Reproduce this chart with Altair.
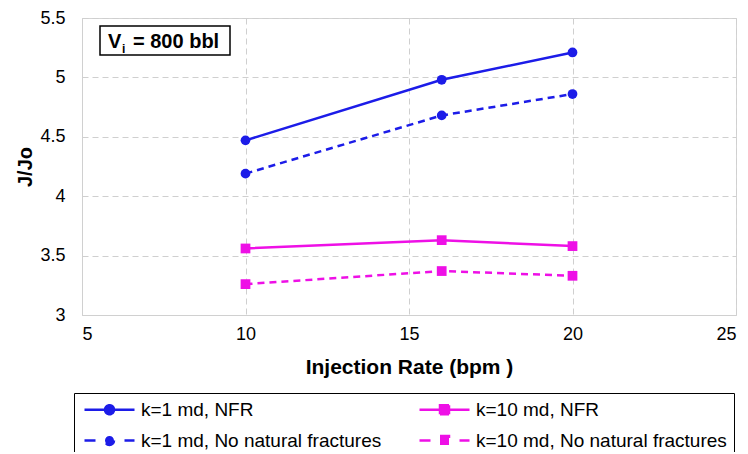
import altair as alt
import pandas as pd

rates = [10, 16, 20]
k1_nfr = [4.47, 4.98, 5.21]
k1_nonf = [4.19, 4.68, 4.86]
k10_nfr = [3.56, 3.63, 3.58]
k10_nonf = [3.26, 3.37, 3.33]

series_names = ["k=1 md, NFR", "k=10 md, NFR",
                "k=1 md, No natural fractures", "k=10 md, No natural fractures"]
series_values = [k1_nfr, k10_nfr, k1_nonf, k10_nonf]
series_colors = ["#1c1ce8", "#ee10e6", "#1c1ce8", "#ee10e6"]
series_solid = [True, True, False, False]
series_round = [True, False, True, False]
legend_dash = [[1, 0], [1, 0], [11, 29], [11, 29]]
x_ticks = [5, 10, 15, 20, 25]
y_ticks = [3, 3.5, 4, 4.5, 5, 5.5]

rows = []
for name, vals, solid, rnd in zip(series_names, series_values, series_solid, series_round):
    for r, v in zip(rates, vals):
        rows.append({"series": name, "rate": r, "jjo": v, "solid": solid, "round": rnd})
df = pd.DataFrame(rows)

FONT = "Liberation Sans"
circle_path = "M-5,0L5,0M0.9,0A0.9,0.9,0,1,1,-0.9,0A0.9,0.9,0,1,1,0.9,0Z"
square_path = "M-5,0L5,0M-0.9,-0.9L0.9,-0.9L0.9,0.9L-0.9,0.9Z"
legend_shapes = [circle_path, square_path, circle_path, square_path]

x_enc = alt.X("rate:Q", scale=alt.Scale(domain=[5, 25], nice=False),
              axis=alt.Axis(values=x_ticks, title="Injection Rate (bpm )", format="~g",
                            titleFontSize=21, titleFontWeight="bold",
                            titlePadding=13, labelPadding=10))
y_enc = alt.Y("jjo:Q", scale=alt.Scale(domain=[3, 5.5], nice=False, zero=False),
              axis=alt.Axis(values=y_ticks, title="J/Jo", format="~g", titleFontSize=20,
                            titleFontWeight="bold", titlePadding=4, labelPadding=17))

color_enc = alt.Color("series:N", scale=alt.Scale(domain=series_names, range=series_colors),
                      legend=None)

base = alt.Chart(df)
solid_lines = base.mark_line(strokeWidth=2.5).encode(
    x=x_enc, y=y_enc, color=color_enc).transform_filter("datum.solid")
dashed_lines = base.mark_line(strokeWidth=2.5, strokeDash=[7, 5]).encode(
    x=x_enc, y=y_enc, color=color_enc).transform_filter("!datum.solid")
circles = base.mark_point(filled=True, size=95, opacity=1, shape="circle").encode(
    x=x_enc, y=y_enc, color=color_enc).transform_filter("datum.round")
squares = base.mark_point(filled=True, size=95, opacity=1, shape="square").encode(
    x=x_enc, y=y_enc, color=color_enc).transform_filter("!datum.round")

legend = alt.Legend(
    title=None, orient="none", legendX=-8, legendY=375, columns=2,
    direction="horizontal", strokeColor="black", padding=7,
    symbolSize=100, symbolStrokeWidth=2.5, symbolOffset=19, symbolOpacity=1,
    labelOffset=22, labelFontSize=19, labelFont=FONT, labelColor="black",
    rowPadding=11, columnPadding=32, labelLimit=400,
)
legend_layer = base.mark_point(filled=True, opacity=0, strokeWidth=2.5).encode(
    x=x_enc, y=y_enc,
    fill=alt.Fill("series:N", scale=alt.Scale(domain=series_names, range=series_colors),
                  legend=legend),
    stroke=alt.Stroke("series:N", scale=alt.Scale(domain=series_names, range=series_colors),
                      legend=legend),
    strokeDash=alt.StrokeDash("series:N", scale=alt.Scale(domain=series_names, range=legend_dash),
                              legend=legend),
    shape=alt.Shape("series:N", scale=alt.Scale(domain=series_names, range=legend_shapes),
                    legend=legend),
)

one = pd.DataFrame({"t": [0]})
box = alt.Chart(one).mark_rect(fill="white", stroke="black", strokeWidth=1.5).encode(
    x=alt.value(18), x2=alt.value(148), y=alt.value(8), y2=alt.value(37))
t_v = alt.Chart(one).mark_text(text="V", font=FONT, fontSize=20, fontWeight="bold",
                               align="left", baseline="alphabetic").encode(
    x=alt.value(26), y=alt.value(30))
t_i = alt.Chart(one).mark_text(text="i", font=FONT, fontSize=12, fontWeight="bold",
                               align="left", baseline="alphabetic").encode(
    x=alt.value(40), y=alt.value(35))
t_rest = alt.Chart(one).mark_text(text="= 800 bbl", font=FONT, fontSize=20, fontWeight="bold",
                                  align="left", baseline="alphabetic").encode(
    x=alt.value(51), y=alt.value(30))

chart = alt.layer(legend_layer, solid_lines, dashed_lines, circles, squares,
                  box, t_v, t_i, t_rest).properties(
    width=654, height=297, background="white",
    autosize=alt.AutoSizeParams(type="none"),
    padding={"left": 74, "top": 10, "right": 4, "bottom": 137},
).configure_axis(
    grid=True, gridDash=[6, 4], gridColor="#cfcfcf", gridWidth=1,
    domainColor="#d0d0d0", ticks=False, labelFont=FONT, titleFont=FONT,
    labelFontSize=18, labelColor="black", titleColor="black",
).configure_view(stroke="#d4d4d4")

chart.save("out.html", embed_options={"renderer": "svg", "actions": False})
